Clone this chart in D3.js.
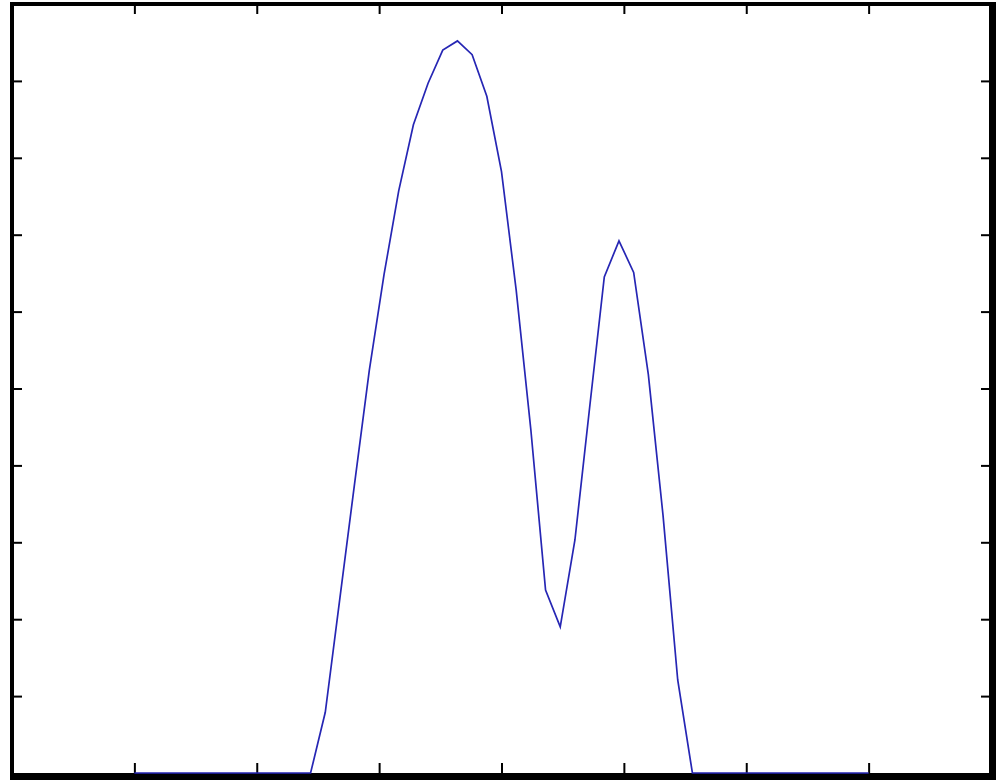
<!DOCTYPE html>
<html>
<head>
    <meta charset="UTF-8">
    <title>Curve</title>
    <script src="https://d3js.org/d3.v7.min.js"></script>
    <style>
        body { margin: 0; background: #ffffff; }
    </style>
</head>
<body>
    <div id="chart"></div>

<script>
    // values (x in axis units, y in 0..1)
    var xValues = [1, 2.44, 2.56, 2.68, 2.80, 2.92, 3.04, 3.16, 3.28, 3.40, 3.52, 3.64, 3.76,
                   3.88, 4.00, 4.12, 4.24, 4.36, 4.48, 4.60, 4.72, 4.84, 4.96, 5.08, 5.20,
                   5.32, 5.44, 5.56, 7];
    var yValues = [0, 0, 0.079, 0.228, 0.377, 0.524, 0.648, 0.757, 0.843, 0.897, 0.940, 0.952, 0.934,
                   0.880, 0.782, 0.628, 0.446, 0.238, 0.190, 0.303, 0.475, 0.645, 0.692, 0.651, 0.518,
                   0.335, 0.121, 0, 0];
    var xTicks = [1, 2, 3, 4, 5, 6, 7];
    var yTicks = [0.1, 0.2, 0.3, 0.4, 0.5, 0.6, 0.7, 0.8, 0.9];

    var width = 1004;
    var height = 780;
    // plot box edges (window.top is read-only, so use other names)
    var boxL = 12, boxR = 991, boxT = 4, boxB = 773;

    var svg = d3.select("#chart").append("svg")
        .attr("width", width)
        .attr("height", height);

    var xScale = d3.scaleLinear().domain([0, 8]).range([boxL, boxR]);
    var yScale = d3.scaleLinear().domain([0, 1]).range([boxB, boxT]);

    // inward ticks on all four sides, no labels
    function styleAxis(g) {
        g.select(".domain").remove();
        g.selectAll(".tick line").attr("stroke", "#000").attr("stroke-width", 2);
        g.selectAll(".tick text").remove();
    }

    svg.append("g").attr("transform", "translate(0," + boxB + ")")
        .call(d3.axisBottom(xScale).tickValues(xTicks).tickSizeInner(-10).tickSizeOuter(0).tickFormat(""))
        .call(styleAxis);
    svg.append("g").attr("transform", "translate(0," + boxT + ")")
        .call(d3.axisTop(xScale).tickValues(xTicks).tickSizeInner(-10).tickSizeOuter(0).tickFormat(""))
        .call(styleAxis);
    svg.append("g").attr("transform", "translate(" + boxL + ",0)")
        .call(d3.axisLeft(yScale).tickValues(yTicks).tickSizeInner(-10).tickSizeOuter(0).tickFormat(""))
        .call(styleAxis);
    svg.append("g").attr("transform", "translate(" + boxR + ",0)")
        .call(d3.axisRight(yScale).tickValues(yTicks).tickSizeInner(-10).tickSizeOuter(0).tickFormat(""))
        .call(styleAxis);

    // frame: thin on top/left, heavier on right/bottom
    svg.append("rect").attr("x", boxL - 2).attr("y", boxT - 2)
        .attr("width", boxR - boxL + 4).attr("height", 4).attr("fill", "#000");
    svg.append("rect").attr("x", boxL - 2).attr("y", boxT - 2)
        .attr("width", 4).attr("height", boxB - boxT + 4).attr("fill", "#000");
    svg.append("rect").attr("x", boxR - 2).attr("y", boxT - 2)
        .attr("width", 7).attr("height", height - boxT + 2).attr("fill", "#000");
    svg.append("rect").attr("x", boxL - 2).attr("y", boxB)
        .attr("width", boxR - boxL + 7).attr("height", height - boxB).attr("fill", "#000");

    // the curve, drawn last so its flat part shows on the bottom edge
    var points = xValues.map(function(x, i) { return [x, yValues[i]]; });
    var line = d3.line()
        .x(function(d) { return xScale(d[0]); })
        .y(function(d) { return yScale(d[1]); });

    svg.append("path")
        .datum(points)
        .attr("d", line)
        .attr("fill", "none")
        .attr("stroke", "#2626b4")
        .attr("stroke-width", 1.7)
        .attr("stroke-linejoin", "miter");
</script>
</body>
</html>
